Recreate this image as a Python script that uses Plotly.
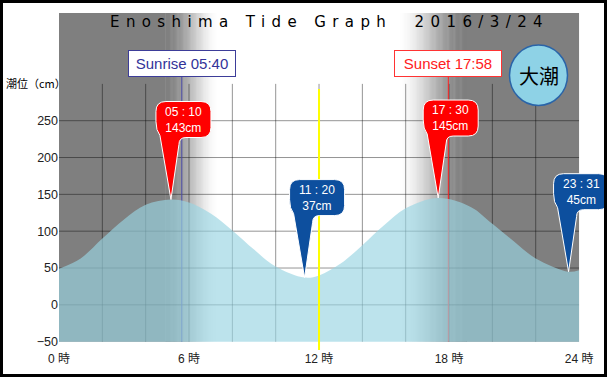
import plotly.graph_objects as go

# ---------------- data ----------------
tide_hours = [0, 1, 2, 3, 4, 5.17, 6, 7, 8, 9, 10, 11.33, 12, 13, 14, 15, 16, 17.5, 19, 20, 21, 22, 23.52, 24]
tide_cm = [49, 63, 90, 116, 136, 143, 139, 124, 101, 75, 52, 37, 40, 56, 81, 108, 131, 145, 133, 110, 86, 63, 45, 47]

high_times = ["05 : 10", "17 : 30"]
high_hours = [5 + 10 / 60, 17 + 30 / 60]
high_cm = [143, 145]
low_times = ["11 : 20", "23 : 31"]
low_hours = [11 + 20 / 60, 23 + 31 / 60]
low_cm = [37, 45]

sunrise_label = "Sunrise 05:40"
sunrise_hour = 5 + 40 / 60
sunset_label = "Sunset 17:58"
sunset_hour = 17 + 58 / 60
now_hour = 12

x_tickvals = [0, 6, 12, 18, 24]
x_ticktext = ["0 時", "6 時", "12 時", "18 時", "24 時"]
y_tickvals = [-50, 0, 50, 100, 150, 200, 250]
title_text = "Enoshima Tide Graph\u00a0 2016/3/24"
tide_kind = "大潮"
y_title = "潮位（cm）"

# ---------------- layout constants ----------------
X_MAX = 25.29
Y_MIN, Y_MAX = -61.3, 396.2
GRID_COLOR = "rgba(0,0,0,0.42)"
NIGHT = 127
LEFT_FADE = (4.9, 7.4)
RIGHT_FADE = (15.6, 18.8)

shapes = []

def gray(b):
    b = int(round(b))
    return f"rgb({b},{b},{b})"

def smooth(u):
    u = max(0.0, min(1.0, u))
    return u * u * (3 - 2 * u)

# night background
shapes.append(dict(type="rect", xref="x", yref="y", x0=0, x1=LEFT_FADE[0] + 0.02, y0=-50, y1=Y_MAX,
                   fillcolor=gray(NIGHT), line=dict(width=0), layer="below"))
shapes.append(dict(type="rect", xref="x", yref="y", x0=RIGHT_FADE[1] - 0.02, x1=24, y0=-50, y1=Y_MAX,
                   fillcolor=gray(NIGHT), line=dict(width=0), layer="below"))
dt = 0.04
for (a, b), rising in ((LEFT_FADE, True), (RIGHT_FADE, False)):
    n = int(round((b - a) / dt))
    for i in range(n):
        t0 = a + i * dt
        u = (i + 0.5) / n
        s = smooth(u) if rising else 1 - smooth(u)
        shapes.append(dict(type="rect", xref="x", yref="y", x0=t0, x1=t0 + dt * 1.6, y0=-50, y1=Y_MAX,
                           fillcolor=gray(NIGHT + (255 - NIGHT) * s), line=dict(width=0), layer="below"))

# grid
for h in range(2, 24, 2):
    shapes.append(dict(type="line", xref="x", yref="y", x0=h, x1=h, y0=-50, y1=300,
                       line=dict(color=GRID_COLOR, width=1), layer="below"))
for v in y_tickvals[1:]:
    shapes.append(dict(type="line", xref="x", yref="y", x0=0, x1=24, y0=v, y1=v,
                       line=dict(color=GRID_COLOR, width=1), layer="below"))

# sunrise / sunset lines
shapes.append(dict(type="line", xref="x", yref="y", x0=sunrise_hour, x1=sunrise_hour, y0=-50, y1=320,
                   line=dict(color="#4a4aa8", width=1), layer="below"))
shapes.append(dict(type="line", xref="x", yref="y", x0=sunset_hour, x1=sunset_hour, y0=-50, y1=320,
                   line=dict(color="#ff2020", width=1), layer="below"))

# current time line
shapes.append(dict(type="line", xref="x", yref="y", x0=now_hour, x1=now_hour, y0=Y_MIN, y1=293,
                   line=dict(color="#ffff00", width=2), layer="above"))

# balloons
BALLOON = ("M 0 0 L -11 64 Q -15 69 -15 78 L -15 88 Q -15 98 -5 98 L 30 98 "
           "Q 40 98 40 88 L 40 72 Q 40 62 30 62 L 15 62 Q 8 62 8 55 Z")
annotations = []
def balloon(hour, cm, label, color):
    shapes.append(dict(type="path", xref="x", yref="y", xsizemode="pixel", ysizemode="pixel",
                       xanchor=hour, yanchor=cm, path=BALLOON, fillcolor=color,
                       line=dict(color="white", width=1), layer="above"))
    annotations.append(dict(x=hour, y=cm, xref="x", yref="y", xshift=12.5, yshift=80,
                            xanchor="center", yanchor="middle",
                            text=f"{label}<br>{cm}cm", showarrow=False,
                            font=dict(family="Liberation Sans", size=12, color="white"), align="center"))
for h, c, l in zip(high_hours, high_cm, high_times):
    balloon(h, c, l, "#ff0000")
for h, c, l in zip(low_hours, low_cm, low_times):
    balloon(h, c, l, "#0d4f9e")

# tide-kind circle
shapes.append(dict(type="circle", xref="paper", yref="paper",
                   x0=(509.5 - 59) / 548, x1=(567.5 - 59) / 548, y0=(350 - 105.5) / 337, y1=(350 - 45) / 337,
                   fillcolor="#8ed2e6", line=dict(color="#2a64a8", width=1.5), layer="above"))
annotations.append(dict(x=(538.5 - 59) / 548, y=(350 - 75) / 337, xref="paper", yref="paper",
                        xanchor="center", yanchor="middle", text=tide_kind, showarrow=False,
                        font=dict(family="Noto Sans CJK JP", size=20, color="black")))

# image border
shapes.append(dict(type="rect", xref="paper", yref="paper", x0=-59 / 548, x1=1.0, y0=-27 / 337, y1=1 + 13 / 337,
                   line=dict(color="black", width=6), fillcolor="rgba(0,0,0,0)", layer="above"))

# sunrise / sunset boxes
for hour, label, col, bcol in ((sunrise_hour, sunrise_label, "#333399", "#3d3d99"),
                               (sunset_hour, sunset_label, "#ff2020", "#ff3333")):
    annotations.append(dict(x=hour, y=(350 - 63.5) / 337, xref="x", yref="paper", text=label, showarrow=False,
                            xanchor="center", yanchor="middle",
                            width=104, height=23, borderpad=1, borderwidth=1, bordercolor=bcol, bgcolor="white",
                            font=dict(family="Liberation Sans", size=15, color=col)))

# title
annotations.append(dict(x=(329 - 59) / 548, y=(350 - 22) / 337, xref="paper", yref="paper",
                        xanchor="center", yanchor="middle",
                        text=f'<span style="letter-spacing:6.4px">{title_text}</span>', showarrow=False,
                        font=dict(family="DejaVu Sans", size=15, color="black")))
# y axis title
annotations.append(dict(x=-55 / 548, y=(350 - 83) / 337, xref="paper", yref="paper", xanchor="left",
                        yanchor="middle", text=y_title, showarrow=False,
                        font=dict(family="Noto Sans CJK JP", size=11, color="black")))

fig = go.Figure()
fig.add_trace(go.Scatter(x=[0, 24], y=[-50, -50], mode="lines", line=dict(width=0, color="rgba(0,0,0,0)"),
                         hoverinfo="skip", showlegend=False))
fig.add_trace(go.Scatter(x=tide_hours, y=tide_cm, mode="lines", line=dict(width=0, color="rgba(0,0,0,0)", shape="spline"),
                         fill="tonexty", fillcolor="rgba(153,213,226,0.66)", showlegend=False))

fig.update_layout(
    width=607, height=377,
    margin=dict(l=59, r=0, t=13, b=27),
    paper_bgcolor="white", plot_bgcolor="white",
    showlegend=False,
    shapes=shapes, annotations=annotations,
    xaxis=dict(range=[0, X_MAX], showgrid=False, zeroline=False, showline=False, tickvals=x_tickvals,
               ticktext=x_ticktext, tickfont=dict(family="Liberation Sans, Noto Sans CJK JP", size=12, color="#222")),
    yaxis=dict(range=[Y_MIN, Y_MAX], showgrid=False, zeroline=False, showline=False, tickvals=y_tickvals,
               tickfont=dict(family="Liberation Sans", size=12.5, color="#222")),
)
fig.write_html("out.html")
